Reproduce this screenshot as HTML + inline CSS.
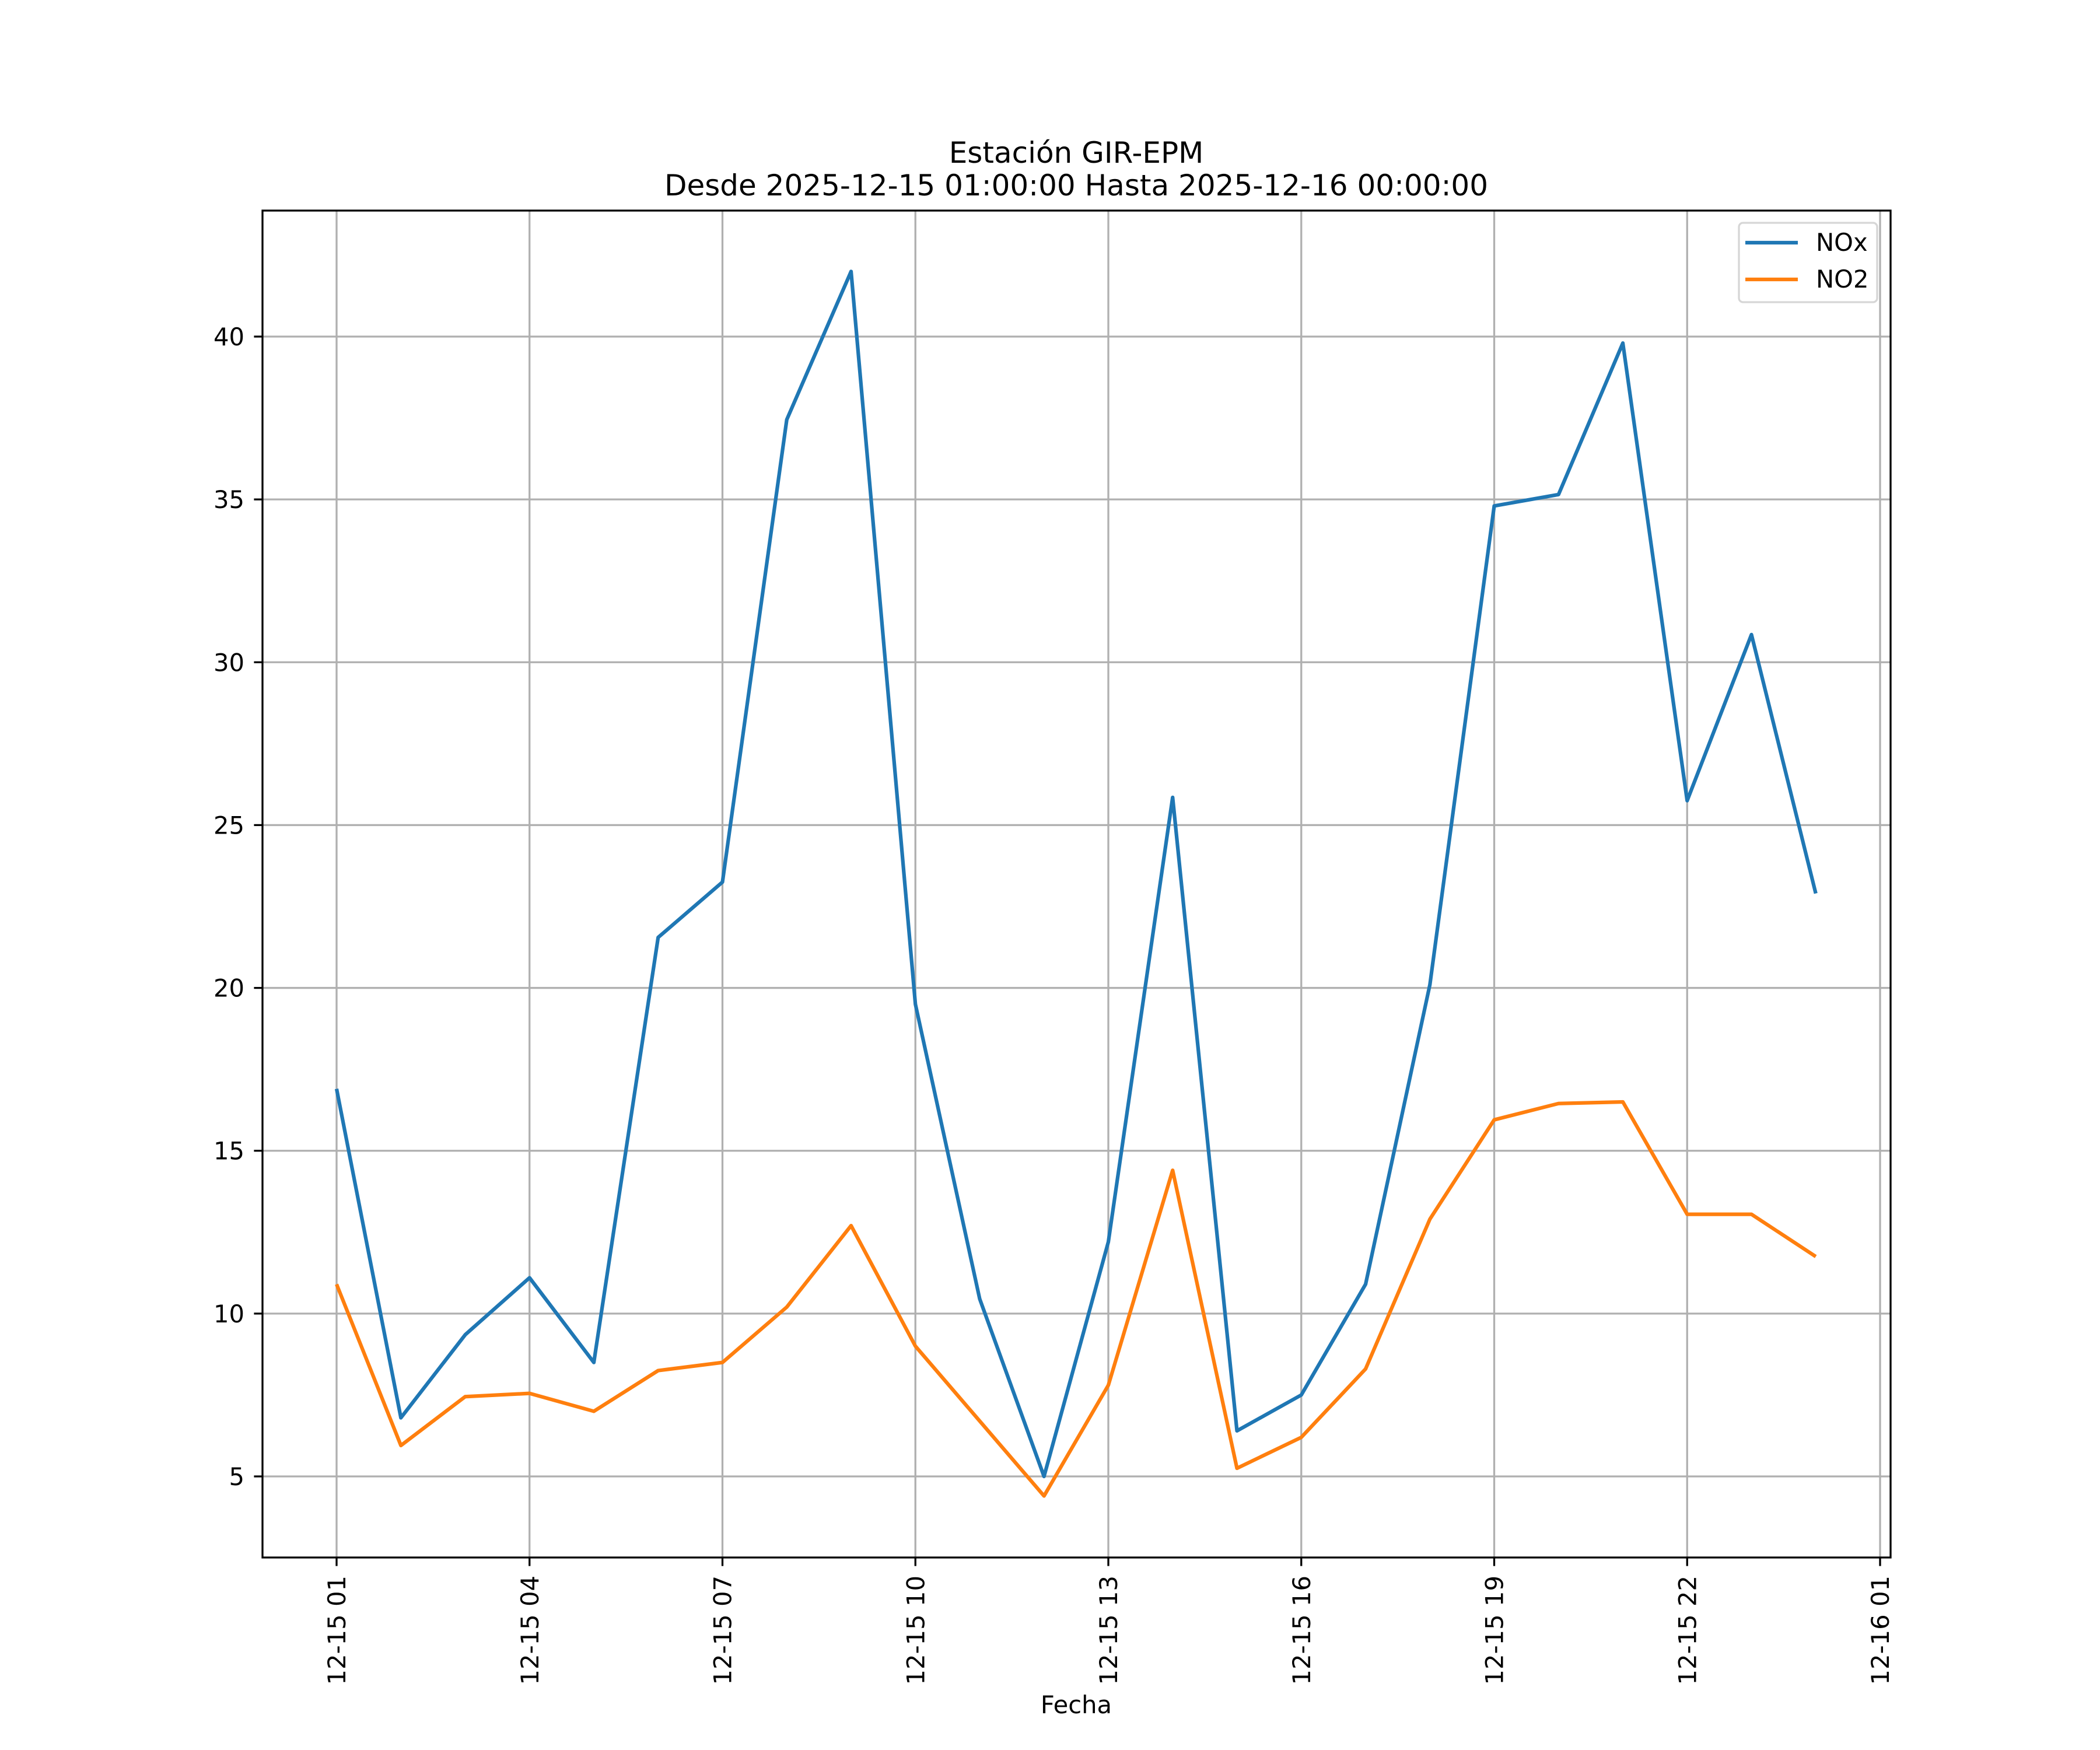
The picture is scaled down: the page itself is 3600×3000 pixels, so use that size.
<!DOCTYPE html>
<html><head><meta charset="utf-8"><style>
html,body{margin:0;padding:0;background:#fff}
svg{display:block}
text{font-family:"DejaVu Sans","Liberation Sans",sans-serif;fill:#000}
</style></head><body>
<svg id="chart" xmlns="http://www.w3.org/2000/svg" width="3600" height="3000" viewBox="0 0 3600 3000">
<rect width="3600" height="3000" fill="#fff"/>
<g id="grid"></g>
<g id="series"></g>
<g id="axes"></g>
<text x="1845" y="279" font-size="50" text-anchor="middle">Estación GIR-EPM</text>
<text x="1845" y="335" font-size="50" text-anchor="middle">Desde 2025-12-15 01:00:00 Hasta 2025-12-16 00:00:00</text>
<text x="1845" y="2937" font-size="41.7" text-anchor="middle">Fecha</text>
<g>
<rect x="2981" y="382" width="237" height="136" rx="7" fill="#fff" fill-opacity="0.8" stroke="#d6d6d6" stroke-width="3.3"/>
<line x1="2992" y1="416" x2="3082" y2="416" stroke="#1f77b4" stroke-width="6.25"/>
<text x="3113" y="430" font-size="41.7">NOx</text>
<line x1="2992" y1="479" x2="3082" y2="479" stroke="#ff7f0e" stroke-width="6.25"/>
<text x="3113" y="493" font-size="41.7">NO2</text>
</g>
</svg>
<script>
const hours = [0,1,2,3,4,5,6,7,8,9,10,11,12,13,14,15,16,17,18,19,20,21,22,23];
const noxValues = [16.9,6.8,9.35,11.1,8.5,21.55,23.25,37.45,42.0,19.5,10.45,5.0,12.2,25.85,6.4,7.5,10.9,20.1,34.8,35.15,39.8,25.75,30.85,22.9];
const no2Values = [10.9,5.95,7.45,7.55,7.0,8.25,8.5,10.2,12.7,9.0,6.7,4.4,7.8,14.4,5.25,6.2,8.3,12.9,15.95,16.45,16.5,13.05,13.05,11.75];
const yTicks = [5,10,15,20,25,30,35,40];
const xTickHours = [0,3,6,9,12,15,18,21,24];
const xTickLabels = ["12-15 01","12-15 04","12-15 07","12-15 10","12-15 13","12-15 16","12-15 19","12-15 22","12-16 01"];

const L=450,R=3241,T=361,B=2670;
function x(h){return 577+h*(3223-577)/24;}
function y(v){return 2531-(v-5)*(2531-577)/35;}
const NS="http://www.w3.org/2000/svg";
function mk(tag,attrs,parent){const e=document.createElementNS(NS,tag);for(const k in attrs)e.setAttribute(k,attrs[k]);parent.appendChild(e);return e;}
const grid=document.getElementById('grid'),axes=document.getElementById('axes'),series=document.getElementById('series');

yTicks.forEach(v=>{
  const g=mk('line',{x1:L,x2:R,y1:y(v),y2:y(v),stroke:'#b0b0b0','stroke-width':3.3},grid);
  
  
  const t=mk('line',{x1:L-14.6,x2:L,y1:y(v),y2:y(v),stroke:'#000','stroke-width':3.3},axes);
  
  
  const lb=mk('text',{x:L-31,y:y(v)+15,'font-size':41.7,'text-anchor':'end'},axes);
  lb.textContent=v;
  
  
});
xTickHours.forEach((h,i)=>{
  const g=mk('line',{x1:x(h),x2:x(h),y1:T,y2:B,stroke:'#b0b0b0','stroke-width':3.3},grid);
  
  
  const t=mk('line',{x1:x(h),x2:x(h),y1:B,y2:B+14.6,stroke:'#000','stroke-width':3.3},axes);
  
  
  const lb=mk('text',{x:0,y:0,'font-size':41.7,'text-anchor':'end',transform:`translate(${x(h)+15},${B+31}) rotate(-90)`},axes);
  lb.textContent=xTickLabels[i];
  
  
});
const frame=mk('rect',{x:L,y:T,width:R-L,height:B-T,fill:'none',stroke:'#000','stroke-width':3.3},axes);



function pts(vals){return vals.map((v,i)=>x(hours[i]).toFixed(2)+','+y(v).toFixed(2)).join(' ');}
const nox=mk('polyline',{points:pts(noxValues),fill:'none',stroke:'#1f77b4','stroke-width':6.25,'stroke-linejoin':'round'},series);


const no2=mk('polyline',{points:pts(no2Values),fill:'none',stroke:'#ff7f0e','stroke-width':6.25,'stroke-linejoin':'round'},series);


</script>
</body></html>
